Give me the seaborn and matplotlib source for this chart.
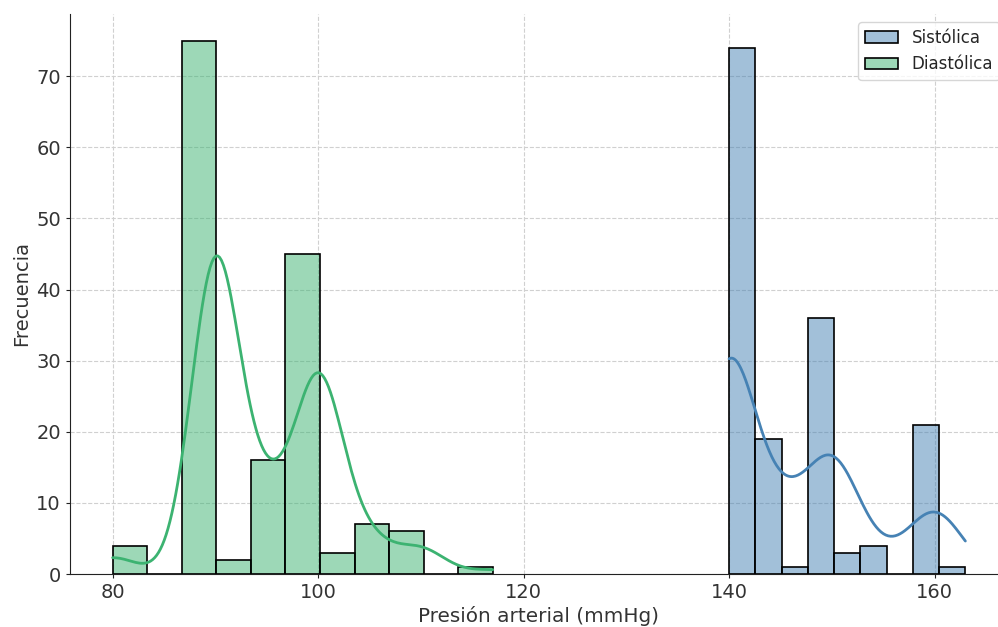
import numpy as np
import pandas as pd
import matplotlib.pyplot as plt
import seaborn as sns

# valores (lectura -> numero de pacientes)
sist_valores = [140, 145, 147, 150, 152, 155, 160, 163]
sist_conteos = [74, 19, 1, 36, 3, 4, 21, 1]
diast_valores = [80, 90, 92, 95, 100, 102, 105, 110, 117]
diast_conteos = [4, 75, 2, 16, 45, 3, 7, 6, 1]

sistolica = np.repeat(sist_valores, sist_conteos)
diastolica = np.repeat(diast_valores, diast_conteos)

sns.set_style("white")
plt.rcParams['font.family'] = ['DejaVu Sans']
plt.rcParams['axes.edgecolor'] = '#222222'
plt.rcParams['xtick.color'] = '#222222'
plt.rcParams['ytick.color'] = '#222222'

fig = plt.figure(figsize=(9.98, 6.27), dpi=100)
ax = fig.add_axes([70 / 998, 53 / 627, 938 / 998, 560 / 627])

sns.histplot(sistolica, bins=9, kde=True, color='steelblue', alpha=0.5,
             edgecolor='black', linewidth=1.2, line_kws={'linewidth': 2},
             label='Sistólica', ax=ax)
sns.histplot(diastolica, bins=11, kde=True, color='mediumseagreen', alpha=0.5,
             edgecolor='black', linewidth=1.2, line_kws={'linewidth': 2},
             label='Diastólica', ax=ax)

ax.set_xlabel('Presión arterial (mmHg)', fontsize=14.4, color='#333333', labelpad=3)
ax.set_ylabel('Frecuencia', fontsize=14, color='#333333')
ax.tick_params(labelsize=14, length=3, left=True, bottom=True, labelcolor='#333333')
ax.grid(True, linestyle='--', color='#d0d0d0', linewidth=0.8)
ax.set_axisbelow(True)
sns.despine(ax=ax)
ax.legend(loc='upper right', fontsize=12)

fig.savefig('out.png', dpi=100)
